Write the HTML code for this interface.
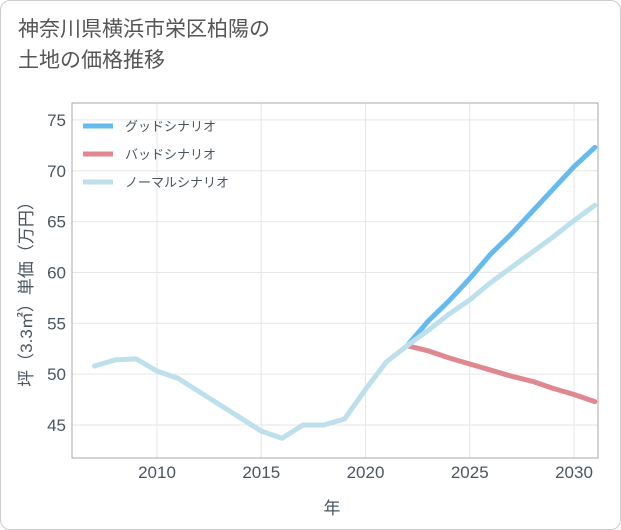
<!DOCTYPE html>
<html><head><meta charset="utf-8"><style>
body{margin:0;background:#fff;font-family:"Liberation Sans","Noto Sans CJK JP",sans-serif}
#card{position:absolute;left:0;top:0;width:619px;height:528px;border:1px solid #ccc;border-radius:10px;background:#fff}
#title{position:absolute;left:18px;top:14px;font-size:21px;line-height:31px;color:#555}
</style></head><body>
<div id="card"></div>
<div id="title">神奈川県横浜市栄区柏陽の<br>土地の価格推移</div>
<svg id="chart" width="621" height="530" style="position:absolute;left:0;top:0"></svg>
<script>
const years=[2007,2008,2009,2010,2011,2012,2013,2014,2015,2016,2017,2018,2019,2020,2021,2022,2023,2024,2025,2026,2027,2028,2029,2030,2031];
const normal=[50.8,51.4,51.5,50.3,49.6,48.3,47.0,45.7,44.4,43.7,45.0,45.0,45.6,48.5,51.2,52.8,54.3,55.9,57.3,59.0,60.5,62.0,63.5,65.1,66.6];
const futureYears=[2022,2023,2024,2025,2026,2027,2028,2029,2030,2031];
const good=[52.8,55.2,57.2,59.4,61.8,63.8,66.0,68.2,70.4,72.3];
const bad=[52.8,52.3,51.6,51.0,50.4,49.8,49.3,48.6,48.0,47.3];
const yTicks=[45,50,55,60,65,70,75];
const xTicks=[2010,2015,2020,2025,2030];
const seriesNames=["グッドシナリオ","バッドシナリオ","ノーマルシナリオ"];
const L=72,R=598,T=103,B=458;
const x=v=>157+(v-2010)*20.85;
const y=v=>425-(v-45)*10.17;
const svg=document.getElementById('chart');
const NS='http://www.w3.org/2000/svg';
function mk(t,a,p){const e=document.createElementNS(NS,t);for(const k in a)e.setAttribute(k,a[k]);(p||svg).appendChild(e);return e;}
const defs=mk('defs',{});const cp=mk('clipPath',{id:'c'},defs);mk('rect',{x:L,y:T,width:R-L,height:B-T},cp);
const TXT='#4a5560';
yTicks.forEach(v=>{const g=mk('line',{x1:L,x2:R,y1:y(v),y2:y(v),stroke:'#e6e6e6'});

const t=mk('text',{x:L-6,y:y(v)+6,'text-anchor':'end','font-size':17,fill:TXT});t.textContent=v;
});
xTicks.forEach(v=>{const g=mk('line',{x1:x(v),x2:x(v),y1:T,y2:B,stroke:'#e6e6e6'});

const t=mk('text',{x:x(v),y:B+20,'text-anchor':'middle','font-size':17,fill:TXT});t.textContent=v;
});
const fr=mk('rect',{x:L,y:T,width:R-L,height:B-T,fill:'none',stroke:'#aaa'});

function line(xs,ys,c,n){const p=mk('polyline',{points:xs.map((v,i)=>x(v)+','+y(ys[i])).join(' '),fill:'none',stroke:c,'stroke-width':5,'stroke-linejoin':'round','stroke-linecap':'round','clip-path':'url(#c)'});
}
line(futureYears,bad,'#e0888f','bad-scenario-line');
line(futureYears,good,'#66bbee','good-scenario-line');
line(years,normal,'#bde0ec','normal-scenario-line');
const cols=['#66bbee','#e0888f','#bde0ec'];
seriesNames.forEach((n,i)=>{const yy=126+i*28;
const l=mk('line',{x1:83,x2:113,y1:yy,y2:yy,stroke:cols[i],'stroke-width':5});

const t=mk('text',{x:125,y:yy+5,'font-size':13,fill:TXT});t.textContent=n;
});
const xt=mk('text',{x:332,y:514,'text-anchor':'middle','font-size':17,fill:TXT});xt.textContent='年';

const yt=mk('text',{x:0,y:0,'text-anchor':'middle','font-size':17,fill:TXT,transform:'translate(32,290) rotate(-90)'});yt.textContent='坪（3.3㎡）単価（万円）';

</script>
</body></html>
